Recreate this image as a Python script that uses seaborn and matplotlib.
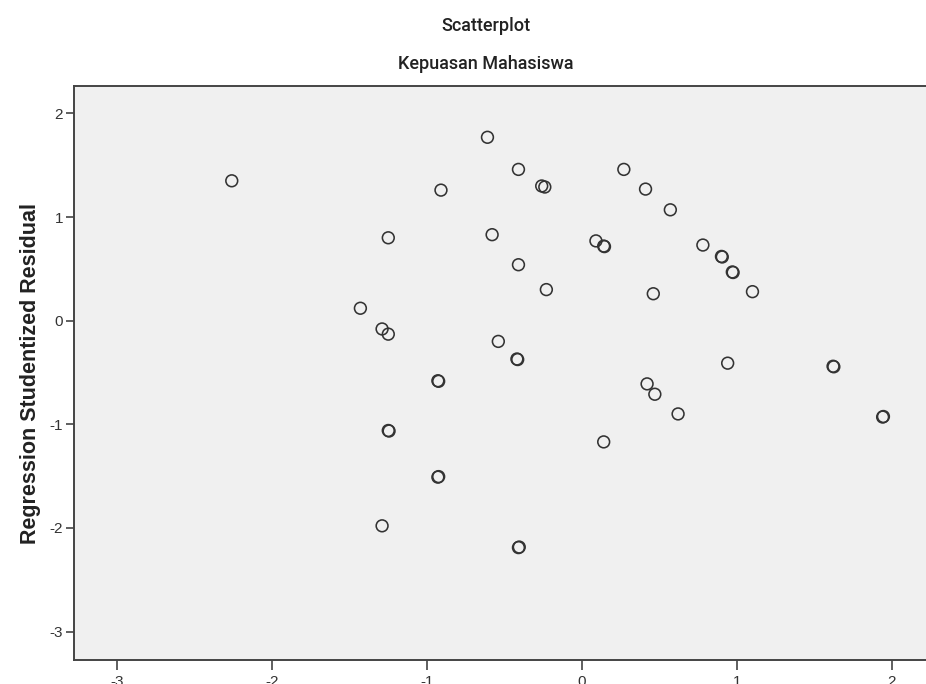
import pandas as pd
import seaborn as sns
import matplotlib.pyplot as plt

# Standardized predicted value (x) and studentized residual (y)
pred = [-2.26, -0.61, -0.41, -0.26, -0.24, 0.27, 0.41, 0.57, -0.91,
        -1.25, -0.58, -0.41, -0.23, 0.09, 0.14, 0.145, 0.78, 0.90, 0.905,
        0.97, 0.975, 0.46, 1.10, -1.43, -1.29, -1.25, -0.54, -0.42, -0.415,
        -0.93, -0.925, -1.25, -1.245, 0.14, -0.93, -0.925, -1.29, -0.41,
        -0.405, 0.94, 0.42, 0.47, 0.62, 1.62, 1.625, 1.94, 1.945]
resid = [1.35, 1.77, 1.46, 1.30, 1.29, 1.46, 1.27, 1.07, 1.26,
         0.80, 0.83, 0.54, 0.30, 0.77, 0.72, 0.715, 0.73, 0.62, 0.615,
         0.47, 0.465, 0.26, 0.28, 0.12, -0.08, -0.13, -0.20, -0.37, -0.375,
         -0.58, -0.585, -1.06, -1.065, -1.17, -1.51, -1.505, -1.98, -2.19,
         -2.185, -0.41, -0.61, -0.71, -0.90, -0.44, -0.445, -0.93, -0.925]

x_ticks = [-3, -2, -1, 0, 1, 2]
y_ticks = [-3, -2, -1, 0, 1, 2]

df = pd.DataFrame({'pred': pred, 'resid': resid})

fig = plt.figure(figsize=(9.26, 6.84), dpi=100)
ax = fig.add_axes([74 / 926, 24 / 684, 1016 / 926, 574 / 684])
ax.set_facecolor('#f0f0f0')

sns.scatterplot(data=df, x='pred', y='resid', ax=ax, marker='o', s=72,
                color='#333333', facecolor='none', edgecolor='#333333',
                linewidth=1.15)

ax.set_xlim(-3.278, 3.278)
ax.set_ylim(-3.275, 2.265)
ax.set_xticks(x_ticks)
ax.set_yticks(y_ticks)
ax.set_xticklabels([str(t) for t in x_ticks])
ax.set_yticklabels([str(t) for t in y_ticks])
ax.tick_params(direction='out', length=6, width=1.2, color='#444444',
               labelcolor='#333333', labelsize=11, pad=2)
# the x labels run off the bottom edge, as in the original screenshot
ax.tick_params(axis='x', length=7, pad=4)
for lab in ax.get_xticklabels() + ax.get_yticklabels():
    lab.set_family('Liberation Sans')
for sp in ax.spines.values():
    sp.set_color('#444444')
    sp.set_linewidth(1.4)

ax.set_xlabel('')
ax.set_ylabel('Regression Studentized Residual', family='Liberation Sans',
              fontweight='bold', fontsize=15.5, color='#222222', labelpad=6)

fig.text(486 / 926, 1 - 26 / 684, 'Scatterplot', ha='center', va='center',
         family='Roboto', fontweight='medium', fontsize=13, color='#222222')
fig.text(486 / 926, 1 - 64 / 684, 'Kepuasan Mahasiswa', ha='center',
         va='center', family='Roboto', fontweight='medium', fontsize=13,
         color='#222222')

plt.savefig('out.png', dpi=100)
